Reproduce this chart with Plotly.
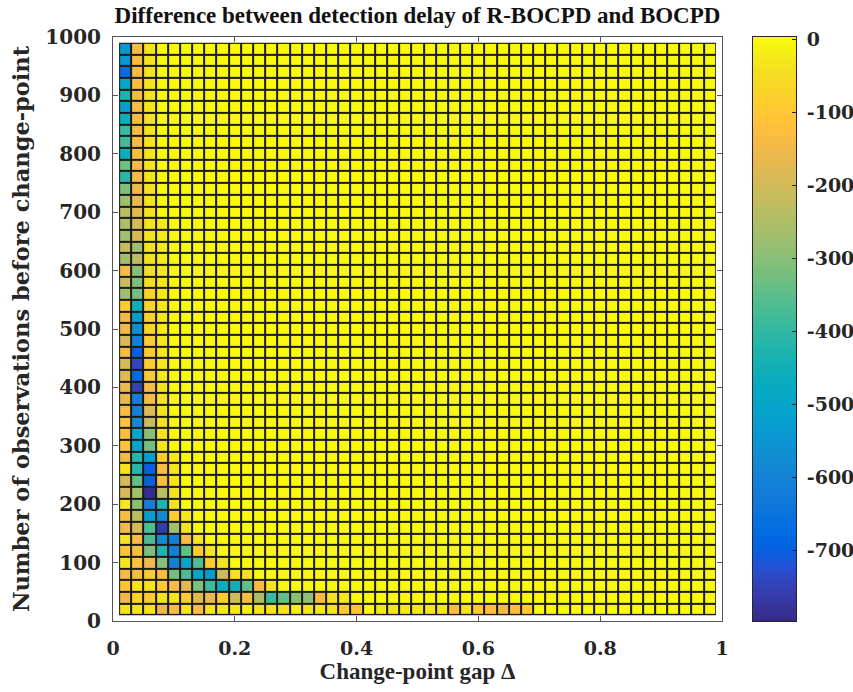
import plotly.graph_objects as go

# Change-point gap (cell centres) and number of observations (cell centres)
delta = [0.02, 0.04, 0.06, 0.08, 0.10, 0.12, 0.14, 0.16, 0.18, 0.20,
         0.22, 0.24, 0.26, 0.28, 0.30, 0.32, 0.34, 0.36, 0.38, 0.40,
         0.42, 0.44, 0.46, 0.48, 0.50, 0.52, 0.54, 0.56, 0.58, 0.60,
         0.62, 0.64, 0.66, 0.68, 0.70, 0.72, 0.74, 0.76, 0.78, 0.80,
         0.82, 0.84, 0.86, 0.88, 0.90, 0.92, 0.94, 0.96, 0.98]
n_obs = [20, 40, 60, 80, 100, 120, 140, 160, 180, 200,
         220, 240, 260, 280, 300, 320, 340, 360, 380, 400,
         420, 440, 460, 480, 500, 520, 540, 560, 580, 600,
         620, 640, 660, 680, 700, 720, 740, 760, 780, 800,
         820, 840, 860, 880, 900, 920, 940, 960, 980]

# Leading (non-yellow) cells of each row, bottom row (n=20) first; remaining cells ~0
delay_rows = [
    [-35, -35, -35, -162, -133, -35, -133, -35, -29, -29, -17, -35, -35, -35, -17, -35, -29, -35,
     -93, -110, 0, -30, -35, -30, -35, -30, -35, -130, -40, -100, -120, -150, -125, -90],
    [-149, -73, -93, -35, -35, -93, -174, -162, -93, -213, -133, -253, -389, -345, -301, -290, -133, -35, -29],
    [-111, -35, -35, -93, -133, -174, -313, -380, -460, -452, -345, -133, -35],
    [-133, -133, -93, -133, -325, -365, -500, -524, -213, -35, -35],
    [-35, -111, -149, -301, -612, -500, -365, -93, -35],
    [-111, -133, -313, -428, -612, -345, -93, -30],
    [-35, -133, -365, -580, -612, -133, -30],
    [-149, -193, -365, -760, -269, -35],
    [-133, -233, -524, -580, -93, -30],
    [-30, -301, -612, -428, -35],
    [-193, -269, -790, -233, -35],
    [-193, -345, -700, -133, -35],
    [-35, -408, -700, -133, -30],
    [-149, -408, -524, -93, -30],
    [-111, -500, -325, -35],
    [-133, -500, -301, -35],
    [-111, -580, -213, -35],
    [-133, -612, -174, -35],
    [-162, -612, -133, -35],
    [-160, -750, -133, -35],
    [-174, -676, -93, -30],
    [-193, -740, -93, -30],
    [-133, -700, -93, -30],
    [-193, -612, -93, -30],
    [-149, -564, -73, -30],
    [-149, -524, -73, -30],
    [-93, -452, -73, -30],
    [-269, -325, -73, -30],
    [-213, -313, -50, -30],
    [-133, -301, -50, -30],
    [-269, -233, -40, -20],
    [-213, -269, -40, -20],
    [-269, -193, -35, -20],
    [-253, -193, -35, -20],
    [-233, -174, -40],
    [-269, -162, -40],
    [-313, -149, -40],
    [-408, -140, -35],
    [-325, -140, -35],
    [-460, -133, -35],
    [-377, -133, -35],
    [-389, -133, -35],
    [-460, -133, -35],
    [-524, -133, -35],
    [-428, -133, -35],
    [-500, -133, -35],
    [-676, -133, -35],
    [-548, -133, -35],
    [-548, -133, -35],
]

x_ticks = [0, 0.2, 0.4, 0.6, 0.8, 1]
x_ticktext = ["0", "0.2", "0.4", "0.6", "0.8", "1"]
y_ticks = [0, 100, 200, 300, 400, 500, 600, 700, 800, 900, 1000]
cb_ticks = [0, -100, -200, -300, -400, -500, -600, -700]
cb_ticktext = ["0", "-100", "-200", "-300", "-400", "-500", "-600", "-700"]
z_min, z_max = -796, 3

z = [row + [0] * (len(delta) - len(row)) for row in delay_rows]

_parula = [
    [0.2081, 0.1663, 0.5292], [0.2116, 0.1898, 0.5777], [0.2123, 0.2138, 0.6270], [0.2081, 0.2386, 0.6771],
    [0.1959, 0.2645, 0.7279], [0.1707, 0.2919, 0.7792], [0.1253, 0.3242, 0.8303], [0.0591, 0.3598, 0.8683],
    [0.0117, 0.3875, 0.8820], [0.0060, 0.4086, 0.8828], [0.0165, 0.4266, 0.8786], [0.0329, 0.4430, 0.8720],
    [0.0498, 0.4586, 0.8641], [0.0629, 0.4737, 0.8554], [0.0723, 0.4887, 0.8467], [0.0779, 0.5040, 0.8384],
    [0.0793, 0.5200, 0.8312], [0.0749, 0.5375, 0.8263], [0.0641, 0.5570, 0.8240], [0.0488, 0.5772, 0.8228],
    [0.0343, 0.5966, 0.8199], [0.0265, 0.6137, 0.8135], [0.0239, 0.6287, 0.8038], [0.0231, 0.6418, 0.7913],
    [0.0228, 0.6535, 0.7768], [0.0267, 0.6642, 0.7607], [0.0384, 0.6743, 0.7436], [0.0590, 0.6838, 0.7254],
    [0.0843, 0.6928, 0.7062], [0.1133, 0.7015, 0.6859], [0.1453, 0.7098, 0.6646], [0.1801, 0.7177, 0.6424],
    [0.2178, 0.7250, 0.6193], [0.2586, 0.7317, 0.5954], [0.3022, 0.7376, 0.5712], [0.3482, 0.7424, 0.5473],
    [0.3953, 0.7459, 0.5244], [0.4420, 0.7481, 0.5033], [0.4871, 0.7491, 0.4840], [0.5300, 0.7491, 0.4661],
    [0.5709, 0.7485, 0.4494], [0.6099, 0.7473, 0.4337], [0.6473, 0.7456, 0.4188], [0.6834, 0.7435, 0.4044],
    [0.7184, 0.7411, 0.3905], [0.7525, 0.7384, 0.3768], [0.7858, 0.7356, 0.3633], [0.8185, 0.7327, 0.3498],
    [0.8507, 0.7299, 0.3360], [0.8824, 0.7274, 0.3217], [0.9139, 0.7258, 0.3063], [0.9450, 0.7261, 0.2886],
    [0.9739, 0.7314, 0.2666], [0.9938, 0.7455, 0.2403], [0.9990, 0.7653, 0.2164], [0.9955, 0.7861, 0.1967],
    [0.9880, 0.8066, 0.1794], [0.9789, 0.8271, 0.1633], [0.9697, 0.8481, 0.1475], [0.9626, 0.8705, 0.1309],
    [0.9589, 0.8949, 0.1132], [0.9598, 0.9218, 0.0948], [0.9661, 0.9514, 0.0755], [0.9763, 0.9831, 0.0538],
]
parula = [[i / (len(_parula) - 1),
           "rgb(%d,%d,%d)" % tuple(round(c * 255) for c in rgb)] for i, rgb in enumerate(_parula)]

# colour-bar gradient levels (a scale, not data)
n_lev = 400
cb_levels = [z_min + (z_max - z_min) * (k + 0.5) / n_lev for k in range(n_lev)]

TICKFONT = dict(family="DejaVu Serif", size=19, color="#262626", weight="bold")
W, H = 853, 692
L, R, T, B = 113, 57, 37, 71
PW = W - L - R
main_dom = [0, 609 / PW]
cb_dom = [(753 - L) / PW, (796 - L) / PW]

fig = go.Figure()
fig.add_trace(go.Heatmap(
    x=delta, y=n_obs, z=z,
    colorscale=parula, zmin=z_min, zmax=z_max,
    xgap=2, ygap=2, showscale=False,
    xaxis="x", yaxis="y",
))
fig.add_trace(go.Heatmap(
    x=[0, 1], y=cb_levels, z=[[v, v] for v in cb_levels],
    colorscale=parula, zmin=z_min, zmax=z_max,
    showscale=False, hoverinfo="skip",
    xaxis="x2", yaxis="y2",
))

fig.add_shape(type="rect", xref="x", yref="y",
              x0=delta[0] - 0.01, x1=delta[-1] + 0.01,
              y0=n_obs[0] - 10, y1=n_obs[-1] + 10,
              fillcolor="#1a1a1a", line=dict(width=0), layer="below")

fig.update_layout(
    width=W, height=H,
    margin=dict(l=L, r=R, t=T, b=B),
    paper_bgcolor="white", plot_bgcolor="white",
    title=dict(text="Difference between detection delay of R-BOCPD and BOCPD",
               x=417.5 / W, xanchor="center", y=1 - 15 / H, yanchor="middle",
               font=dict(family="Liberation Serif", size=23, color="#111111", weight="bold")),
    xaxis=dict(domain=main_dom, range=[0, 1], tickvals=x_ticks, ticktext=x_ticktext,
               ticks="inside", ticklen=5, tickcolor="#555555", ticklabelstandoff=10,
               showline=True, linecolor="#555555", linewidth=1, mirror="ticks",
               showgrid=False, zeroline=False, tickfont=TICKFONT, automargin=False,
               title=dict(text="Change-point gap Δ", standoff=4,
                          font=dict(family="Liberation Serif", size=23, color="#262626", weight="bold"))),
    yaxis=dict(range=[0, 1000], tickvals=y_ticks,
               ticks="inside", ticklen=5, tickcolor="#555555", ticklabelstandoff=7,
               showline=True, linecolor="#555555", linewidth=1, mirror="ticks",
               showgrid=False, zeroline=False, tickfont=dict(TICKFONT, size=20), automargin=False,
               title=dict(text="Number of observations before change-point", standoff=9,
                          font=dict(family="DejaVu Serif", size=22.5, color="#262626", weight="bold"))),
    xaxis2=dict(domain=cb_dom, anchor="y2", range=[0, 1], showticklabels=False, ticks="",
                showline=True, linecolor="#262626", linewidth=1, mirror=True,
                showgrid=False, zeroline=False, automargin=False, fixedrange=True),
    yaxis2=dict(domain=[0, 1], anchor="x2", side="right", range=[z_min, z_max],
                tickvals=cb_ticks, ticktext=cb_ticktext,
                ticks="inside", ticklen=4, tickcolor="#262626", ticklabelstandoff=6,
                showline=True, linecolor="#262626", linewidth=1, mirror=True,
                showgrid=False, zeroline=False, tickfont=TICKFONT, automargin=False,
                fixedrange=True),
)

fig.write_html("out.html", config={"displayModeBar": False},
               post_script="document.body.style.margin='0';")
